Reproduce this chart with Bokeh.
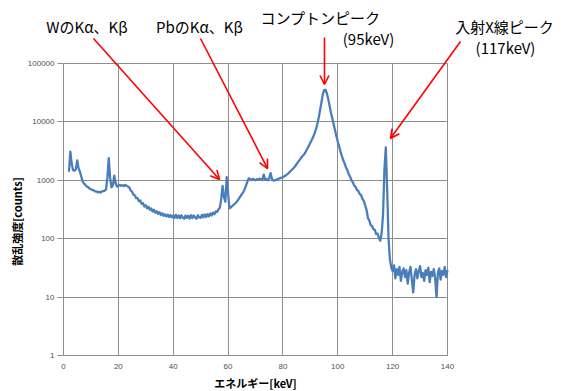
import math
from bokeh.plotting import figure
from bokeh.models import (Arrow, OpenHead, Label, FixedTicker, NumeralTickFormatter,
                          Range1d, ColumnDataSource)
from bokeh.embed import file_html
from bokeh.resources import INLINE

# ---- data: scattered X-ray spectrum, sampled every 0.5 keV from 2.0 to 140.0 keV ----
start_kev = 2.0
step_kev = 0.5
counts = [
    1400, 3100, 1900, 1500, 1450, 1550, 2200, 1600, 1400, 1150,   # 2.0 - 6.5
    950, 880, 830, 780, 765, 725, 705, 685, 675, 645,             # 7.0 - 11.5
    645, 620, 640, 615, 645, 650, 665, 700, 1100, 2400,           # 12.0 - 16.5
    1100, 760, 820, 1200, 900, 780, 800, 835, 805, 825,           # 17.0 - 21.5
    795, 835, 810, 780, 755, 665, 640, 565, 555, 495,             # 22.0 - 26.5
    495, 435, 452, 395, 405, 356, 374, 332, 350, 312,             # 27.0 - 31.5
    330, 292, 312, 278, 296, 266, 284, 256, 272, 246,             # 32.0 - 36.5
    262, 240, 258, 236, 254, 232, 250, 228, 256, 226,             # 37.0 - 41.5
    250, 224, 252, 230, 220, 250, 228, 248, 222, 252,             # 42.0 - 46.5
    226, 250, 230, 220, 252, 232, 228, 256, 232, 260,             # 47.0 - 51.5
    236, 264, 242, 270, 250, 280, 262, 292, 288, 318,             # 52.0 - 56.5
    340, 480, 800, 520, 430, 1130, 600, 330, 345, 360,            # 57.0 - 61.5
    380, 400, 420, 450, 490, 530, 580, 620, 700, 800,             # 62.0 - 66.5
    930, 1080, 1050, 1010, 1060, 1030, 1000, 1050, 1020, 1070,    # 67.0 - 71.5
    1040, 1010, 1250, 1030, 1060, 1000, 1080, 1330, 1050, 990,    # 72.0 - 76.5
    1000, 1020, 1040, 1070, 1090, 1110, 1130, 1170, 1210, 1260,   # 77.0 - 81.5
    1320, 1390, 1470, 1550, 1640, 1760, 1900, 2050, 2200, 2380,   # 82.0 - 86.5
    2560, 2720, 2900, 3200, 3550, 3950, 4400, 4900, 5500, 6300,   # 87.0 - 91.5
    7400, 9000, 11500, 15500, 21000, 29000, 35000, 35500, 31000, 25000,  # 92.0 - 96.5
    19000, 14500, 11500, 9000, 7200, 5700, 4600, 3800, 3100, 2600,       # 97.0 - 101.5
    2200, 1950, 1650, 1480, 1270, 1150, 1000, 920, 810, 770,      # 102.0 - 106.5
    680, 655, 580, 555, 480, 445, 370, 310, 225, 205,             # 107.0 - 111.5
    170, 165, 145, 142, 120, 122, 104, 92, 125, 260,              # 112.0 - 116.5
    1500, 3650, 700, 100, 45, 32, 28, 35, 21, 30,                 # 117.0 - 121.5
    24, 33, 19, 27, 31, 22, 29, 17, 26, 33,                       # 122.0 - 126.5
    20, 12, 24, 30, 21, 28, 34, 22, 26, 19,                       # 127.0 - 131.5
    29, 24, 32, 18, 27, 23, 30, 21, 10, 26,                       # 132.0 - 136.5
    31, 20, 28, 24, 33, 22, 29,                                   # 137.0 - 140.0
]
energy_kev = [start_kev + step_kev * i for i in range(len(counts))]

x_ticks = [0, 20, 40, 60, 80, 100, 120, 140]
y_ticks = [1, 10, 100, 1000, 10000, 100000]

x_label = "エネルギー[keV]"
y_label = "散乱強度[counts]"

# annotated peaks (energy keV, counts at arrow tip)
w_peak = (56.9, 1030)
pb_peak = (74.4, 1590)
compton_peak = (95.15, 43700)
incident_peak = (119.2, 5200)

# ---- layout: chart area (0-140 keV, 1-1e5 counts) occupies pixels 63..447 x 63..355
# of the 561x391 canvas.  The frame covers the whole canvas so that call-out texts
# and arrows (drawn in data space) are not clipped; axes sit at fixed locations. ----
W, H = 561, 391
a_left, a_right, a_top, a_bottom = 63, 447, 63, 355
kev_per_px = (x_ticks[-1] - x_ticks[0]) / (a_right - a_left)
dec_per_px = (math.log10(y_ticks[-1]) - math.log10(y_ticks[0])) / (a_bottom - a_top)
x_start = x_ticks[0] - a_left * kev_per_px
x_end = x_ticks[-1] + (W - a_right) * kev_per_px
y_start = 10 ** (math.log10(y_ticks[0]) - (H - a_bottom) * dec_per_px)
y_end = 10 ** (math.log10(y_ticks[-1]) + a_top * dec_per_px)

p = figure(width=W, height=H, output_backend="svg", toolbar_location=None,
           x_range=Range1d(x_start, x_end), y_range=Range1d(y_start, y_end),
           y_axis_type="log",
           min_border_left=0, min_border_right=0, min_border_top=0, min_border_bottom=0)
p.outline_line_color = None
p.background_fill_color = "white"
p.border_fill_color = "white"

grid_col = "#8e8e8e"
p.xaxis.ticker = FixedTicker(ticks=x_ticks)
p.yaxis.ticker = FixedTicker(ticks=y_ticks)
p.xaxis.bounds = (x_ticks[0], x_ticks[-1])
p.yaxis.bounds = (y_ticks[0], y_ticks[-1])
p.xaxis.fixed_location = y_ticks[0]
p.yaxis.fixed_location = x_ticks[0]
p.yaxis.formatter = NumeralTickFormatter(format="0")

p.xgrid.cross_bounds = (y_ticks[0], y_ticks[-1])
p.ygrid.cross_bounds = (x_ticks[0], x_ticks[-1])
p.xgrid.bounds = (x_ticks[0], x_ticks[-1])
p.ygrid.bounds = (y_ticks[0], y_ticks[-1])
p.xgrid.grid_line_color = grid_col
p.ygrid.grid_line_color = grid_col
p.xgrid.ticker = FixedTicker(ticks=x_ticks)
p.ygrid.ticker = FixedTicker(ticks=y_ticks)

for ax in (p.xaxis, p.yaxis):
    ax.axis_line_color = grid_col
    ax.major_tick_line_color = grid_col
    ax.minor_tick_line_color = None
    ax.major_tick_in = 0
    ax.major_label_text_font = "Liberation Sans"
    ax.major_label_text_font_size = "8px"
    ax.major_label_text_color = "#505050"
p.xaxis.major_tick_out = 0
p.xaxis.major_label_standoff = 8
p.yaxis.major_tick_out = 6
p.yaxis.major_label_standoff = 3

src = ColumnDataSource(data=dict(x=energy_kev, y=counts))
p.line("x", "y", source=src, line_color="#4a7ebb", line_width=2.3, line_join="round")


def px_to_data(px, py):
    """canvas pixel (from top-left) -> data coordinates"""
    x = x_ticks[0] + (px - a_left) * kev_per_px
    y = 10 ** (math.log10(y_ticks[0]) + (a_bottom - py) * dec_per_px)
    return x, y


# axis titles
xl_x, xl_y = px_to_data(255, 382)
p.add_layout(Label(x=xl_x, y=xl_y, text=x_label, text_font="Noto Sans CJK JP",
                   text_font_style="bold", text_font_size="11px", text_color="#000000",
                   text_align="center", text_baseline="middle"))
yl_x, yl_y = px_to_data(16, 221)
p.add_layout(Label(x=yl_x, y=yl_y, text=y_label, text_font="Noto Sans CJK JP",
                   text_font_style="bold", text_font_size="11px", text_color="#000000",
                   text_align="center", text_baseline="middle", angle=math.pi / 2))

# ---- call-outs ----
red = "#ff0000"
arrow_starts = [(93, 38), (200, 38), None, (460, 41)]
peaks = [w_peak, pb_peak, compton_peak, incident_peak]
for start, (xe, ye) in zip(arrow_starts, peaks):
    if start is None:
        xs, ys = xe, px_to_data(324, 37)[1]
    else:
        xs, ys = px_to_data(*start)
    p.add_layout(Arrow(x_start=xs, y_start=ys, x_end=xe, y_end=ye,
                       line_color=red, line_width=1.6,
                       end=OpenHead(size=9, line_color=red, line_width=1.6)))

texts = [
    ("WのKα、Kβ", (86.5, 25.5)),
    ("PbのKα、Kβ", (199, 25.5)),
    ("コンプトンピーク", (320, 16.5)),
    ("(95keV)", (368, 38)),
    ("入射X線ピーク", (504, 25.5)),
    ("(117keV)", (505, 46.5)),
]
for t, (px, py) in texts:
    x, y = px_to_data(px, py)
    p.add_layout(Label(x=x, y=y, text=t, text_font="Noto Sans CJK JP",
                       text_font_size="15px", text_color="#000000",
                       text_align="center", text_baseline="middle"))

open("out.html", "w").write(file_html(p, INLINE))
